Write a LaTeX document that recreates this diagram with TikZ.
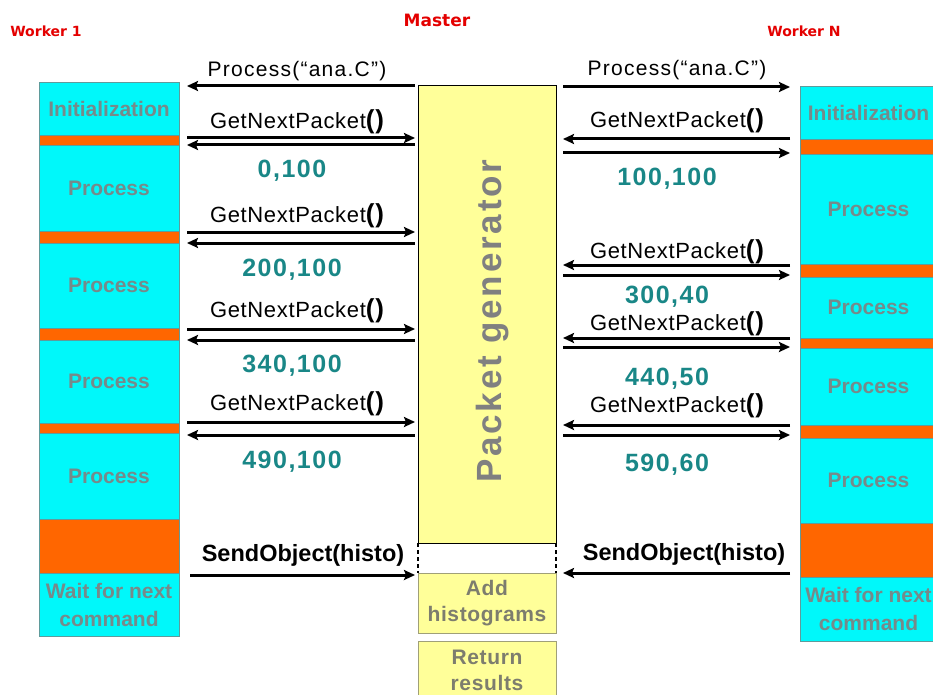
\documentclass[tikz,border=0pt]{standalone}
\usepackage{fontspec}
\setmainfont{Liberation Sans}
\newfontfamily\dejavu{DejaVu Sans}
\usetikzlibrary{arrows.meta,calc}
\definecolor{cyanbox}{RGB}{0,248,250}
\definecolor{orangebox}{RGB}{255,102,0}
\definecolor{yellowbox}{RGB}{255,255,153}
\definecolor{boxborder}{RGB}{95,155,155}
\definecolor{boxtext}{RGB}{118,138,138}
\definecolor{yeltext}{RGB}{125,125,110}
\definecolor{numteal}{RGB}{25,135,135}
\definecolor{hdrred}{RGB}{228,0,0}
\definecolor{addborder}{RGB}{160,160,120}
\newcommand\GNP{GetNextPacket{\fontsize{26}{26}\selectfont\bfseries()}}
\tikzset{
  colbox/.style={draw=boxborder, line width=0.8pt, inner sep=0pt, outer sep=0pt, align=center,
    font=\fontsize{21}{28}\selectfont\bfseries, text=boxtext},
  cbox/.style={colbox, fill=cyanbox},
  obox/.style={colbox, fill=orangebox},
  lcol/.style={minimum width=140pt},
  rcol/.style={minimum width=137pt},
  ybox/.style={draw=addborder, line width=0.8pt, fill=yellowbox, inner sep=0pt, outer sep=0pt,
    minimum width=138pt, align=center, font=\fontsize{21}{26}\selectfont\bfseries\addfontfeature{LetterSpace=3}, text=yeltext},
  arr/.style={line width=3pt, -{Stealth[length=11pt,width=10pt,inset=2pt]}},
  gnplab/.style={anchor=base, inner sep=0pt, font=\fontsize{22}{22}\selectfont\addfontfeature{LetterSpace=3}},
  proclab/.style={anchor=base, inner sep=0pt, font=\fontsize{21}{21}\selectfont\addfontfeature{LetterSpace=6}},
  numlab/.style={anchor=base, inner sep=0pt, text=numteal, font=\fontsize{25}{25}\selectfont\bfseries\addfontfeature{LetterSpace=6}},
  sendlab/.style={anchor=base, inner sep=0pt, font=\fontsize{23.5}{23.5}\selectfont\bfseries},
  hdr/.style={anchor=base, inner sep=0pt, text=hdrred, font=\dejavu\bfseries},
  dotline/.style={line width=2.5pt, dash pattern=on 3.5pt off 3.5pt}
}
\begin{document}
\begin{tikzpicture}[x=1pt,y=-1pt]
\useasboundingbox (0,0) rectangle (933,695);
\clip (0,0) rectangle (933,695);
\fill[white] (0,0) rectangle (933,695);

% headers
\node[hdr, font=\dejavu\bfseries\fontsize{17}{17}\selectfont] (master) at (437,27) {Master};
\node[hdr, font=\dejavu\bfseries\fontsize{14}{14}\selectfont] (w1) at (46,37) {Worker 1};
\node[hdr, font=\dejavu\bfseries\fontsize{14}{14}\selectfont] (wn) at (804,37) {Worker N};

% left column
\node[obox, lcol, minimum height=10pt] (Lo1) at (109,140) {};
\node[obox, lcol, minimum height=12pt] (Lo2) at (109,237) {};
\node[obox, lcol, minimum height=12pt] (Lo3) at (109,334) {};
\node[obox, lcol, minimum height=10pt] (Lo4) at (109,428) {};
\node[obox, lcol, minimum height=54pt] (Lo5) at (109,546) {};
\node[cbox, lcol, minimum height=53pt] (Linit) at (109,108.5) {Initialization};
\node[cbox, lcol, minimum height=86pt] (Lp1) at (109,188) {Process};
\node[cbox, lcol, minimum height=85pt] (Lp2) at (109,285.5) {Process};
\node[cbox, lcol, minimum height=83pt] (Lp3) at (109,381.5) {Process};
\node[cbox, lcol, minimum height=86pt] (Lp4) at (109,476) {Process};
\node[cbox, lcol, minimum height=63pt] (Lwait) at (109,604.5) {Wait for next\\command};

% right column
\node[obox, rcol, minimum height=15pt] (Ro1) at (868.5,146.5) {};
\node[obox, rcol, minimum height=13pt] (Ro2) at (868.5,270.5) {};
\node[obox, rcol, minimum height=10pt] (Ro3) at (868.5,343) {};
\node[obox, rcol, minimum height=13pt] (Ro4) at (868.5,431.5) {};
\node[obox, rcol, minimum height=54pt] (Ro5) at (868.5,550) {};
\node[cbox, rcol, minimum height=53pt] (Rinit) at (868.5,112.5) {Initialization};
\node[cbox, rcol, minimum height=110pt] (Rp1) at (868.5,209) {Process};
\node[cbox, rcol, minimum height=61pt] (Rp2) at (868.5,307.5) {Process};
\node[cbox, rcol, minimum height=77pt] (Rp3) at (868.5,386.5) {Process};
\node[cbox, rcol, minimum height=85pt] (Rp4) at (868.5,480.5) {Process};
\node[cbox, rcol, minimum height=64pt] (Rwait) at (868.5,609) {Wait for next\\command};

% master
\node[draw=black, line width=1pt, fill=yellowbox, minimum width=138pt, minimum height=457pt, inner sep=0pt, outer sep=0pt] (pg) at (487,314.5) {};
\node[rotate=90, anchor=base west, inner sep=0pt, text={rgb,255:red,128;green,128;blue,128},
  font=\fontsize{35}{35}\selectfont\bfseries\addfontfeature{LetterSpace=8}] (pgtext) at (501,483) {Packet generator};
\node[ybox, minimum height=60pt] (add) at (487,603) {Add\\histograms};
\node[ybox, minimum height=59pt] (ret) at (487,670.5) {Return\\results};
\draw[dotline] (pg.south west) -- (add.north west);
\draw[dotline] (pg.south east) -- (add.north east);

% arrow end coordinates
\coordinate (la) at (187,0);
\coordinate (lb) at ([xshift=-3pt]pg.west);
\coordinate (ra) at ([xshift=7pt]pg.east);
\coordinate (rb) at (790,0);

% left arrows
\draw[arr] (lb |- 0,86) -- (la |- 0,86);
\draw[arr] (la |- 0,138) -- (lb |- 0,138);
\draw[arr] (lb |- 0,145) -- (la |- 0,145);
\draw[arr] (la |- 0,232) -- (lb |- 0,232);
\draw[arr] (lb |- 0,243) -- (la |- 0,243);
\draw[arr] (la |- 0,329) -- (lb |- 0,329);
\draw[arr] (lb |- 0,340) -- (la |- 0,340);
\draw[arr] (la |- 0,422) -- (lb |- 0,422);
\draw[arr] (lb |- 0,435) -- (la |- 0,435);
\draw[arr] ([xshift=11pt]Lo5.east |- 0,575) -- (lb |- 0,575);

% right arrows
\draw[arr] (ra |- 0,87) -- (rb |- 0,87);
\draw[arr] (rb |- 0,139) -- (ra |- 0,139);
\draw[arr] (ra |- 0,153) -- (rb |- 0,153);
\draw[arr] (rb |- 0,265) -- (ra |- 0,265);
\draw[arr] (ra |- 0,275) -- (rb |- 0,275);
\draw[arr] (rb |- 0,338) -- (ra |- 0,338);
\draw[arr] (ra |- 0,347) -- (rb |- 0,347);
\draw[arr] (rb |- 0,425) -- (ra |- 0,425);
\draw[arr] (ra |- 0,435) -- (rb |- 0,435);
\draw[arr] (rb |- 0,573) -- (ra |- 0,573);

% left labels
\node[proclab] (procL) at (297,77) {Process(“ana.C”)};
\node[gnplab] (gL1) at (297,129) {\GNP};
\node[numlab] (nL1) at (292,178) {0,100};
\node[gnplab] (gL2) at (297,222) {\GNP};
\node[numlab] (nL2) at (292,276) {200,100};
\node[gnplab] (gL3) at (297,317) {\GNP};
\node[numlab] (nL3) at (292,372) {340,100};
\node[gnplab] (gL4) at (297,410) {\GNP};
\node[numlab] (nL4) at (292,468) {490,100};
\node[sendlab] (sendL) at (303,561) {SendObject(histo)};

% right labels
\node[proclab] (procR) at (677,76) {Process(“ana.C”)};
\node[gnplab] (gR1) at (677,128) {\GNP};
\node[numlab] (nR1) at (667,185) {100,100};
\node[gnplab] (gR2) at (677,258) {\GNP};
\node[numlab] (nR2) at (667,303) {300,40};
\node[gnplab] (gR3) at (677,330) {\GNP};
\node[numlab] (nR3) at (667,385) {440,50};
\node[gnplab] (gR4) at (677,412) {\GNP};
\node[numlab] (nR4) at (667,471) {590,60};
\node[sendlab] (sendR) at (684,560) {SendObject(histo)};
\end{tikzpicture}
\end{document}
